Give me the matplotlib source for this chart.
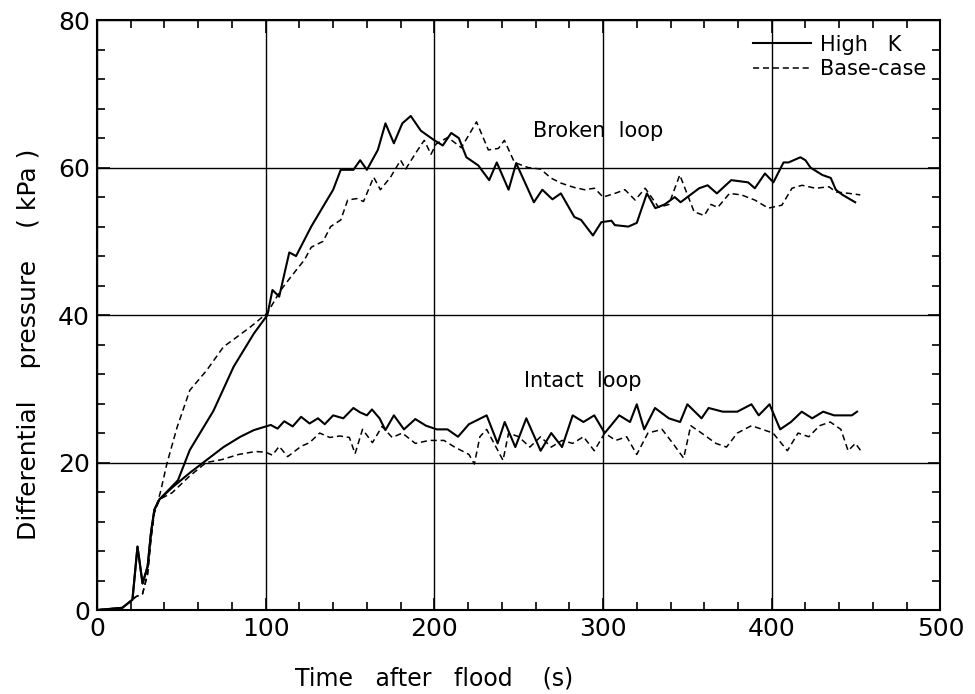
import matplotlib

matplotlib.use("Agg")
import matplotlib.pyplot as plt
from matplotlib.ticker import MultipleLocator

# Broken loop, High K (solid)
broken_hk_t = [0, 15, 21, 24, 27, 30, 32, 34, 37, 48, 55, 69, 81, 93, 101, 104, 108,
               114, 118, 127, 134, 140, 144.5, 152, 156, 160, 166.5, 171, 176, 181, 186,
               192, 200, 205, 210, 214.5, 219, 226, 232.5, 237, 244, 248.5, 259, 264,
               270, 275, 283, 287, 294, 299, 305, 307, 315, 320, 326, 331, 336.5, 342.5,
               346, 350, 357, 362, 367.5, 376, 386, 390, 396, 401, 407, 410, 417, 420,
               423, 430, 435, 438, 442, 449.5]
broken_hk_p = [0, 0.3, 1.4, 8.6, 3.6, 5.9, 10.5, 13.6, 15.0, 17.6, 21.7, 27.0, 33.0,
               37.5, 40.0, 43.4, 42.5, 48.5, 48.0, 52.0, 54.7, 57.0, 59.7, 59.7, 61.0,
               59.7, 62.4, 66.0, 63.3, 66.0, 67.0, 65.0, 63.7, 63.0, 64.7, 64.0, 61.4,
               60.3, 58.3, 60.7, 57.0, 60.6, 55.3, 57.0, 55.7, 56.5, 53.3, 52.9, 50.8,
               52.6, 52.8, 52.2, 52.0, 52.5, 56.5, 54.5, 55.0, 56.0, 55.3, 56.0, 57.2,
               57.6, 56.5, 58.3, 58.0, 57.2, 59.2, 58.0, 60.7, 60.7, 61.4, 61.0, 60.0,
               59.0, 58.6, 57.0, 56.3, 55.3]

# Broken loop, base case (dashed)
broken_bc_t = [0, 15, 21, 23, 27, 30, 32, 34, 37.5, 41.6, 47.5, 55, 65, 75, 81, 91,
               101, 109, 115, 123, 127, 134, 138.5, 144.5, 148.6, 154, 158, 164, 168,
               174, 180, 183, 189, 194, 198, 201, 208, 216, 225, 232, 238, 241.5,
               247.5, 255.6, 263, 269, 275, 283, 289, 295, 300, 307, 313, 319, 325,
               333, 339, 345.5, 354, 360, 364, 368, 375, 382, 390, 398, 406, 412, 418,
               426, 434, 438, 446, 452.5]
broken_bc_p = [0, 0.3, 1.4, 1.8, 2.2, 4.9, 9.7, 13.2, 15.9, 20.0, 24.8, 29.8, 32.5,
               35.7, 36.7, 38.4, 40.3, 43.4, 45.2, 47.5, 49.2, 50.0, 52.0, 52.9, 55.6,
               55.8, 55.4, 58.7, 57.0, 58.7, 61.0, 59.8, 62.0, 63.7, 61.8, 63.2, 64.1,
               62.7, 66.2, 62.4, 62.6, 63.7, 60.7, 60.0, 59.8, 58.6, 57.9, 57.3, 57.0,
               57.2, 56.0, 56.5, 57.0, 55.6, 57.2, 54.6, 55.0, 59.0, 54.0, 53.5, 55.0,
               54.6, 56.5, 56.3, 55.6, 54.5, 54.9, 57.2, 57.6, 57.2, 57.4, 56.7, 56.5,
               56.3]

# Intact loop, High K (solid)
intact_hk_t = [0, 15, 21, 24, 27, 30, 32, 34, 37, 45, 55, 63, 75, 85, 93, 103, 107,
               111, 116, 121, 126, 131, 135, 140, 146, 152, 156, 160, 163, 167.5, 171,
               176, 182, 188.7, 195, 201.4, 207.8, 214, 220.5, 231, 237.5, 241.7, 248,
               254.5, 263, 269.3, 275.7, 282, 288.4, 294.8, 301, 309.6, 316, 320, 324.4,
               330.8, 339, 345.7, 350, 358.4, 362.6, 371, 379.6, 388, 392.3, 398.7, 405,
               411.4, 417.8, 424, 430.5, 437, 443.2, 447.5, 450.6]
intact_hk_p = [0, 0.3, 1.4, 8.6, 3.6, 5.9, 10.5, 13.6, 15.0, 16.7, 18.6, 20.0, 22.1,
               23.5, 24.4, 25.1, 24.6, 25.6, 24.9, 26.2, 25.3, 26.0, 25.2, 26.4, 26.0,
               27.4, 26.8, 26.4, 27.2, 26.0, 24.4, 26.4, 24.5, 25.9, 25.0, 24.5, 24.5,
               23.5, 25.2, 26.4, 22.6, 25.5, 22.1, 26.0, 21.6, 24.0, 22.1, 26.4, 25.5,
               26.4, 24.0, 26.4, 25.5, 27.9, 24.5, 27.4, 26.0, 25.5, 27.9, 26.0, 27.4,
               26.9, 26.9, 27.9, 26.4, 27.9, 24.5, 25.5, 26.9, 26.0, 26.9, 26.4, 26.4,
               26.4, 26.9]

# Intact loop, base case (dashed)
intact_bc_t = [0, 15, 21, 23, 27, 30, 32, 34, 37, 44.5, 54.6, 64.7, 74, 84, 94, 100,
               104, 108, 113, 121, 126, 132, 138, 144, 149.6, 153, 157.4, 163.3, 169,
               175, 181, 188.7, 197, 205.7, 212, 220.5, 223.7, 227, 231, 235.4, 240.7,
               244, 250, 256.6, 263, 269.3, 275.7, 282, 288.4, 294.8, 301, 307.5, 314,
               320, 326.6, 335, 341.4, 347.8, 352, 358.4, 366.9, 373.2, 379.6, 388,
               394.4, 400.8, 409.3, 415.6, 422, 428.4, 434.7, 441, 445.3, 449.6, 452.8]
intact_bc_p = [0, 0.3, 1.4, 1.8, 2.2, 4.9, 9.7, 13.2, 15.0, 15.9, 18.1, 20.0, 20.4,
               21.1, 21.5, 21.4, 21.0, 22.2, 20.8, 22.2, 22.7, 24.0, 23.4, 23.6, 23.4,
               21.2, 24.5, 22.7, 24.9, 23.4, 24.0, 22.6, 23.0, 23.0, 22.1, 21.1, 19.8,
               23.5, 24.5, 22.6, 20.3, 24.0, 23.5, 22.1, 23.5, 22.1, 23.0, 22.6, 23.5,
               21.6, 24.0, 23.0, 23.5, 21.1, 24.0, 24.5, 22.6, 20.6, 25.0, 24.0, 22.6,
               22.1, 24.0, 25.0, 24.5, 24.0, 21.6, 24.0, 23.5, 25.0, 25.5, 24.5, 21.6,
               22.6, 21.6]

plt.rcParams["font.family"] = "DejaVu Sans"

fig = plt.figure(figsize=(9.75, 6.94), dpi=100)
ax = fig.add_axes([0.0995, 0.121, 0.865, 0.850])

dash = (0, (4, 2.5))
ax.plot(broken_hk_t, broken_hk_p, color="black", lw=1.5, label="High   K")
ax.plot(broken_bc_t, broken_bc_p, color="black", lw=1.1, linestyle=dash, label="Base-case")
ax.plot(intact_hk_t, intact_hk_p, color="black", lw=1.5)
ax.plot(intact_bc_t, intact_bc_p, color="black", lw=1.1, linestyle=dash)

ax.set_xlim(0, 500)
ax.set_ylim(0, 80)
ax.xaxis.set_major_locator(MultipleLocator(100))
ax.xaxis.set_minor_locator(MultipleLocator(20))
ax.yaxis.set_major_locator(MultipleLocator(20))
ax.yaxis.set_minor_locator(MultipleLocator(4))
ax.tick_params(which="both", direction="in", top=True, right=True, labelsize=18,
               width=1.2)
ax.tick_params(which="major", length=9, pad=5)
ax.tick_params(which="minor", length=6)
ax.grid(True, which="major", color="black", lw=1.0)
for s in ax.spines.values():
    s.set_linewidth(1.5)

ax.set_xlabel("Time   after   flood    (s)", fontsize=17)
ax.set_ylabel("Differential    pressure    ( kPa )", fontsize=18)
ax.xaxis.set_label_coords(0.40, -0.095)
ax.yaxis.set_label_coords(-0.066, 0.45)

ax.text(297, 65, "Broken  loop", fontsize=15, ha="center", va="center")
ax.text(288, 31, "Intact  loop", fontsize=15, ha="center", va="center")

ax.legend(loc="upper right", frameon=False, fontsize=15, handlelength=2.8,
          handletextpad=0.4, labelspacing=0.2, borderaxespad=0.3)

fig.savefig("out.png", dpi=100)
plt.close(fig)
